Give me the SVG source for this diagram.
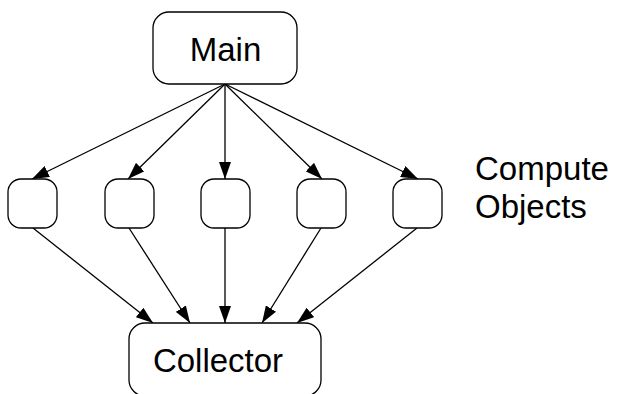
<svg xmlns="http://www.w3.org/2000/svg" width="617" height="394" viewBox="0 0 617 394">
  <style>
    .box { fill: #ffffff; stroke: #000000; stroke-width: 1.3; }
    .lbl { font-family: "Liberation Sans", Arial, sans-serif; font-size: 33px; fill: #000000; }
    .edge { stroke: #000000; stroke-width: 1.3; fill: none; marker-end: url(#arrow); }
  </style>
  <defs>
    <marker id="arrow" markerUnits="userSpaceOnUse" markerWidth="17" markerHeight="12" refX="17" refY="6" orient="auto">
      <path d="M0,0 L17,6 L0,12 z" fill="#000000"/>
    </marker>
  </defs>
  <rect width="617" height="394" fill="#ffffff"/>

  <g id="connectors">
    <!-- Main fans out to the compute objects -->
    <line class="edge" x1="225" y1="84" x2="32" y2="179"/>
    <line class="edge" x1="225" y1="84" x2="128" y2="179"/>
    <line class="edge" x1="225" y1="84" x2="225" y2="179"/>
    <line class="edge" x1="225" y1="84" x2="322" y2="179"/>
    <line class="edge" x1="225" y1="84" x2="418" y2="179"/>
    <!-- compute objects feed the collector -->
    <line class="edge" x1="33" y1="228" x2="153" y2="323"/>
    <line class="edge" x1="129" y1="228" x2="190" y2="323"/>
    <line class="edge" x1="225" y1="228" x2="225" y2="323"/>
    <line class="edge" x1="321" y1="228" x2="262" y2="323"/>
    <line class="edge" x1="417" y1="228" x2="297" y2="323"/>
  </g>

  <g id="main">
    <rect class="box" x="153" y="12" width="144" height="72" rx="16" ry="16"/>
    <text class="lbl" x="225.5" y="61" text-anchor="middle">Main</text>
  </g>

  <g id="compute1"><rect class="box" x="8" y="179" width="49" height="49" rx="13" ry="13"/></g>
  <g id="compute2"><rect class="box" x="105" y="179" width="49" height="49" rx="13" ry="13"/></g>
  <g id="compute3"><rect class="box" x="201" y="179" width="49" height="49" rx="13" ry="13"/></g>
  <g id="compute4"><rect class="box" x="297" y="179" width="49" height="49" rx="13" ry="13"/></g>
  <g id="compute5"><rect class="box" x="393" y="179" width="49" height="49" rx="13" ry="13"/></g>

  <g id="collector">
    <rect class="box" x="129" y="323" width="192" height="73" rx="16" ry="16"/>
    <text class="lbl" x="218" y="372" text-anchor="middle">Collector</text>
  </g>

  <g id="compute-label">
    <text class="lbl" x="475" y="180">Compute</text>
    <text class="lbl" x="475" y="218">Objects</text>
  </g>
</svg>
